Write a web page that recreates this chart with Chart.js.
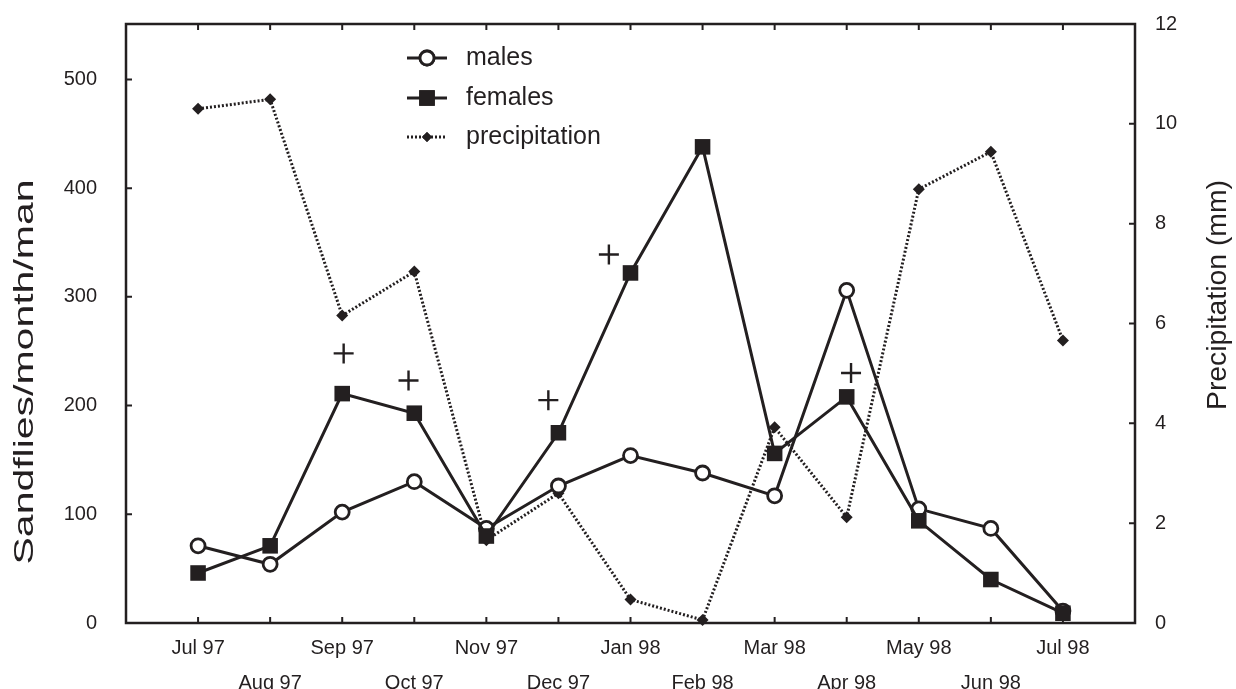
<!DOCTYPE html>
<html>
<head>
<meta charset="utf-8">
<script src="https://cdn.jsdelivr.net/npm/chart.js@4.4.1/dist/chart.umd.min.js"></script>
<style>
    html, body { margin: 0; padding: 0; background: #fff; }
    #wrap { width: 1236px; height: 689px; position: relative; }
</style>
</head>
<body>
<div id="wrap"><canvas id="chartSandflies"></canvas></div>
<script>
const meses = ["Jul 97", "Aug 97", "Sep 97", "Oct 97", "Nov 97", "Dec 97", "Jan 98",
               "Feb 98", "Mar 98", "Apr 98", "May 98", "Jun 98", "Jul 98"];
const machos = [71, 54, 102, 130, 87, 126, 154, 138, 117, 306, 105, 87, 11];
const hembras = [46, 71, 211, 193, 80, 175, 322, 438, 156, 208, 94, 40, 9];
const precipitacion = [10.3, 10.49, 6.16, 7.04, 1.66, 2.6, 0.47, 0.06, 3.92, 2.12, 8.69, 9.44, 5.66];
// marcas "+" (posición en meses, valor en escala izquierda)
const cruzMes = [2.02, 2.92, 4.86, 5.7, 9.06];
const cruzValor = [248, 223, 205, 339, 230];

const NEGRO = "#231f20";
const FUENTE = "'Liberation Sans', Arial, Helvetica, sans-serif";

const puntos = (arr) => arr.map((v, i) => ({ x: i, y: v }));

function tituloVertical(ctx, texto, x, y, largo) {
    ctx.save();
    ctx.translate(x, y);
    ctx.rotate(-Math.PI / 2);
    const ancho = ctx.measureText(texto).width;
    ctx.scale(largo / ancho, 1);
    ctx.fillText(texto, 0, 0);
    ctx.restore();
}

const marcoYLeyenda = {
    id: "marcoYLeyenda",
    beforeDatasetsDraw(chart) {
        const { ctx, chartArea: a, scales } = chart;
        ctx.save();
        ctx.strokeStyle = NEGRO;
        ctx.lineWidth = 2.5;
        ctx.strokeRect(a.left, a.top, a.right - a.left, a.bottom - a.top);
        ctx.lineWidth = 2;
        const largo = 6;
        ctx.beginPath();
        scales.x.ticks.forEach(t => {
            if (t.value < 0 || t.value > 12) return;
            const px = scales.x.getPixelForValue(t.value);
            ctx.moveTo(px, a.bottom); ctx.lineTo(px, a.bottom - largo);
            ctx.moveTo(px, a.top); ctx.lineTo(px, a.top + largo);
        });
        scales.y.ticks.forEach(t => {
            const py = scales.y.getPixelForValue(t.value);
            ctx.moveTo(a.left, py); ctx.lineTo(a.left + largo, py);
        });
        scales.y2.ticks.forEach(t => {
            const py = scales.y2.getPixelForValue(t.value);
            ctx.moveTo(a.right, py); ctx.lineTo(a.right - largo, py);
        });
        ctx.stroke();
        ctx.restore();
    },
    afterDraw(chart) {
        const { ctx } = chart;
        ctx.save();
        ctx.fillStyle = NEGRO;
        // titulos de ejes
        ctx.font = "28px " + FUENTE;
        ctx.textAlign = "center";
        ctx.textBaseline = "middle";
        tituloVertical(ctx, "Sandflies/month/man", 25, 372, 385);
        tituloVertical(ctx, "Precipitation (mm)", 1218, 295, 230);

        // leyenda
        const items = [
            { ds: chart.data.datasets[1], y: 58, texto: "males" },
            { ds: chart.data.datasets[0], y: 98, texto: "females" },
            { ds: chart.data.datasets[2], y: 137, texto: "precipitation" }
        ];
        ctx.textAlign = "left";
        ctx.font = "25px " + FUENTE;
        items.forEach(it => {
            const ds = it.ds;
            ctx.strokeStyle = NEGRO;
            ctx.lineWidth = ds.borderWidth;
            ctx.setLineDash(ds.borderDash || []);
            ctx.beginPath();
            ctx.moveTo(407, it.y);
            ctx.lineTo(447, it.y);
            ctx.stroke();
            ctx.setLineDash([]);
            Chart.helpers.drawPoint(ctx, {
                pointStyle: ds.pointStyle,
                radius: it.texto === "precipitation" ? 5 : ds.pointRadius,
                borderWidth: ds.pointBorderWidth
            }, 427, it.y);
            ctx.fillStyle = ds.pointBackgroundColor;
            ctx.strokeStyle = NEGRO;
            ctx.lineWidth = ds.pointBorderWidth;
            ctx.fill();
            if (ds.pointBorderWidth > 0) ctx.stroke();
            ctx.fillStyle = NEGRO;
            ctx.fillText(it.texto, 466, it.y);
        });
        ctx.restore();
    }
};

const sinRelleno = (s) => {
    s.paddingTop = 0;
    s.paddingBottom = 0;
    s.paddingLeft = 0;
    s.paddingRight = 0;
};

const ctx = document.getElementById("chartSandflies");
new Chart(ctx, {
    type: "line",
    data: {
        datasets: [
            {
                label: "females",
                data: puntos(hembras),
                yAxisID: "y",
                borderColor: NEGRO,
                borderWidth: 3,
                pointStyle: "rect",
                pointRadius: 11,
                pointBackgroundColor: NEGRO,
                pointBorderColor: NEGRO,
                pointBorderWidth: 0,
                order: 0
            },
            {
                label: "males",
                data: puntos(machos),
                yAxisID: "y",
                borderColor: NEGRO,
                borderWidth: 3,
                pointStyle: "circle",
                pointRadius: 7,
                pointBackgroundColor: "#ffffff",
                pointBorderColor: NEGRO,
                pointBorderWidth: 2.8,
                order: 1
            },
            {
                label: "precipitation",
                data: puntos(precipitacion),
                yAxisID: "y2",
                borderColor: NEGRO,
                borderWidth: 3,
                borderDash: [2, 2],
                pointStyle: "rectRot",
                pointRadius: 6,
                pointBackgroundColor: NEGRO,
                pointBorderColor: NEGRO,
                pointBorderWidth: 0,
                order: 2
            },
            {
                label: "+",
                type: "scatter",
                data: cruzMes.map((m, i) => ({ x: m, y: cruzValor[i] })),
                yAxisID: "y",
                showLine: false,
                pointStyle: "cross",
                pointRadius: 10,
                pointBorderColor: NEGRO,
                pointBorderWidth: 2.4,
                order: 3
            }
        ]
    },
    options: {
        responsive: true,
        maintainAspectRatio: false,
        animation: false,
        clip: false,
        layout: { padding: { top: 24, left: 0, right: 0, bottom: 0 } },
        plugins: {
            legend: { display: false },
            tooltip: { enabled: false }
        },
        scales: {
            x: {
                type: "linear",
                min: -1,
                max: 13,
                border: { display: false },
                grid: { display: false, drawTicks: false },
                ticks: {
                    stepSize: 1,
                    autoSkip: false,
                    maxRotation: 0,
                    padding: 8,
                    color: NEGRO,
                    font: { family: FUENTE, size: 20, lineHeight: 1.75 },
                    callback: (v) => {
                        if (v < 0 || v > 12) return "";
                        return v % 2 === 0 ? meses[v] : ["", meses[v]];
                    }
                },
                afterFit: (s) => { s.height = 66; sinRelleno(s); }
            },
            y: {
                position: "left",
                min: 0,
                max: 551,
                border: { display: false },
                grid: { display: false, drawTicks: false },
                ticks: {
                    stepSize: 100,
                    includeBounds: false,
                    padding: 29,
                    color: NEGRO,
                    font: { family: FUENTE, size: 20 }
                },
                afterFit: (s) => { s.width = 126; sinRelleno(s); }
            },
            y2: {
                position: "right",
                min: 0,
                max: 12,
                border: { display: false },
                grid: { display: false, drawTicks: false },
                ticks: {
                    stepSize: 2,
                    padding: 20,
                    color: NEGRO,
                    font: { family: FUENTE, size: 20 }
                },
                afterFit: (s) => { s.width = 101; sinRelleno(s); }
            }
        }
    },
    plugins: [marcoYLeyenda]
});
</script>
</body>
</html>
